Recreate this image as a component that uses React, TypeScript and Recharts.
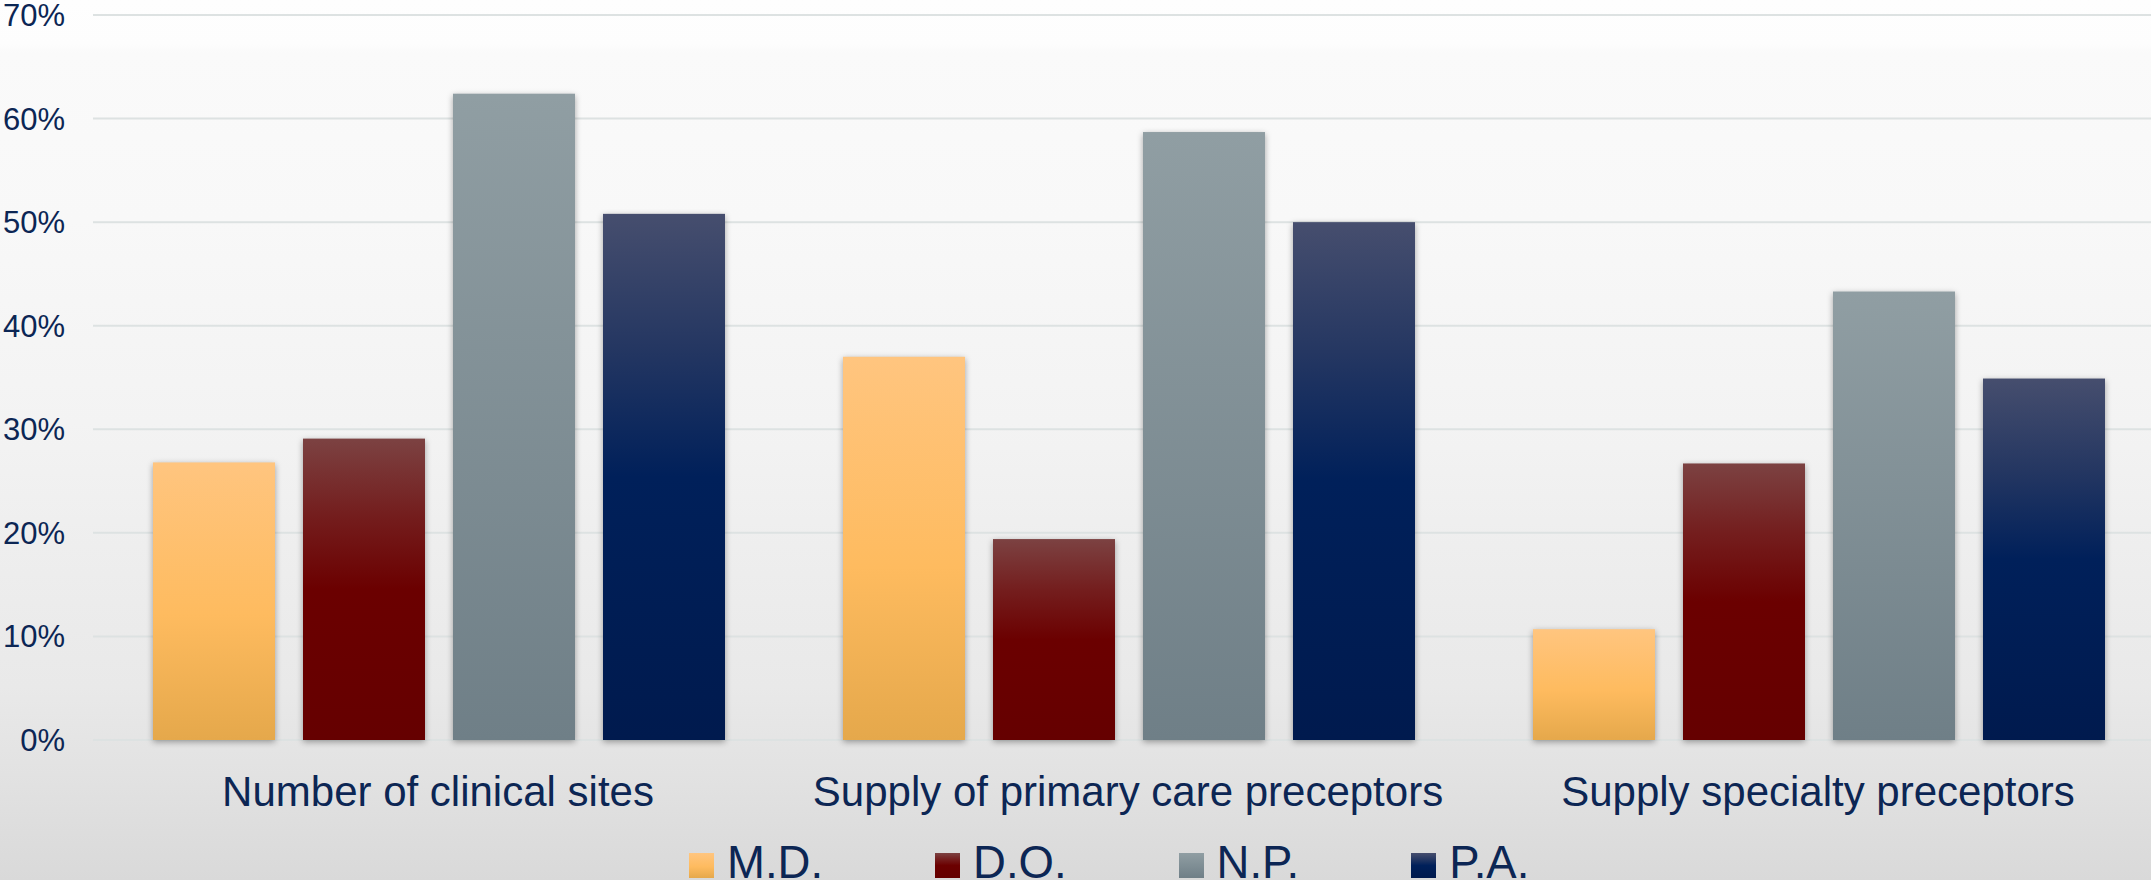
import React from 'react';
import { BarChart, Bar, XAxis, YAxis, CartesianGrid, Legend } from 'recharts';

// Share of respondents reporting each item as a barrier, by program type
const categories = [
  'Number of clinical sites',
  'Supply of primary care preceptors',
  'Supply specialty preceptors',
];
const seriesNames = ['M.D.', 'D.O.', 'N.P.', 'P.A.'];
const mdValues = [26.8, 37.0, 10.7];
const doValues = [29.1, 19.4, 26.7];
const npValues = [62.4, 58.7, 43.3];
const paValues = [50.8, 50.0, 34.9];
const yTicks = [0, 10, 20, 30, 40, 50, 60, 70];

const seriesKeys = ['md', 'do', 'np', 'pa'];

const data = categories.map((category, i) => ({
  category,
  md: mdValues[i],
  do: doValues[i],
  np: npValues[i],
  pa: paValues[i],
}));

// Vertical gradient stops for each series (offset, colour)
const gradientStops: Record<string, [number, string][]> = {
  md: [[0, '#FFC57F'], [0.55, '#FEBB5F'], [1, '#E5A84B']],
  do: [[0, '#7C4242'], [0.25, '#741E1E'], [0.5, '#6B0000'], [1, '#650000']],
  np: [[0, '#909EA3'], [1, '#6F7F87']],
  pa: [[0, '#464E6E'], [0.25, '#253762'], [0.5, '#00205A'], [1, '#001A4E']],
};

const textColor = '#0C2654';
const fontFamily = '"Liberation Sans", Arial, Helvetica, sans-serif';

const cssGradient = (key: string) =>
  `linear-gradient(to bottom, ${gradientStops[key]
    .map(([o, c]) => `${c} ${o * 100}%`)
    .join(', ')})`;

const ShadowBar = (props: any) => {
  const { x, y, width, height, fill } = props;
  if (!height || height <= 0) return null;
  return (
    <rect x={x} y={y} width={width} height={height} fill={fill} filter="url(#barShadow)" />
  );
};

const renderLegend = (props: any) => {
  const payload = [...(props.payload || [])].sort(
    (a: any, b: any) =>
      seriesKeys.indexOf(String(a.dataKey)) - seriesKeys.indexOf(String(b.dataKey)),
  );
  return (
    <div
      style={{
        display: 'flex',
        height: 50,
        paddingLeft: 689,
        boxSizing: 'border-box',
        fontFamily,
      }}
    >
      {payload.map((entry: any, i: number) => (
        <div
          key={entry.value}
          style={{
            display: 'flex',
            alignItems: 'flex-start',
            marginRight: i < payload.length - 1 ? 112 : 0,
          }}
        >
          <div
            style={{
              width: 25,
              height: 25,
              marginTop: 23,
              background: cssGradient(String(entry.dataKey)),
            }}
          />
          <span
            style={{
              marginLeft: 13,
              marginTop: 10,
              fontSize: 45.5,
              lineHeight: '46px',
              color: textColor,
              whiteSpace: 'nowrap',
            }}
          >
            {entry.value}
          </span>
        </div>
      ))}
    </div>
  );
};

export default function App() {
  return (
    <div
      style={{
        position: 'absolute',
        left: 0,
        top: 0,
        width: 2151,
        height: 880,
        overflow: 'hidden',
        fontFamily,
        background:
          'linear-gradient(to bottom, #FEFEFE 0%, #FDFDFD 5%, #FAFAFA 6%, #F8F8F8 25%, #F3F3F3 48%, #EEEEEE 62%, #E9E9E9 78%, #E2E2E2 88%, #D9D9D9 100%)',
      }}
    >
      <BarChart
        width={2163}
        height={880}
        data={data}
        margin={{ top: 15, right: 0, bottom: 0, left: 0 }}
        barCategoryGap={60}
        barGap={28}
      >
        <defs>
          {seriesKeys.map((key) => (
            <linearGradient key={key} id={`grad-${key}`} x1="0" y1="0" x2="0" y2="1">
              {gradientStops[key].map(([o, c]) => (
                <stop key={o} offset={o} stopColor={c} />
              ))}
            </linearGradient>
          ))}
          <filter
            id="barShadow"
            x="-20%"
            y="-10%"
            width="140%"
            height="125%"
            colorInterpolationFilters="sRGB"
          >
            <feDropShadow dx="0" dy="2" stdDeviation="3" floodColor="#000000" floodOpacity="0.35" />
          </filter>
        </defs>
        <CartesianGrid vertical={false} stroke="#DDE2E2" strokeWidth={2} />
        <XAxis
          dataKey="category"
          height={90}
          axisLine={false}
          tickLine={false}
          tickSize={0}
          tickMargin={36}
          interval={0}
          tick={{ fill: textColor, fontSize: 42, fontFamily }}
        />
        <YAxis
          width={93}
          domain={[0, 70]}
          ticks={yTicks}
          interval={0}
          tickFormatter={(v: number) => `${v}%`}
          axisLine={false}
          tickLine={false}
          tickSize={0}
          tickMargin={28}
          tick={{ fill: textColor, fontSize: 31, fontFamily }}
        />
        <Legend
          verticalAlign="bottom"
          content={renderLegend}
          itemSorter={null as any}
          wrapperStyle={{ left: 0, bottom: 0, width: 2163, height: 50, margin: 0, padding: 0 }}
        />
        {seriesKeys.map((key, i) => (
          <Bar
            key={key}
            dataKey={key}
            name={seriesNames[i]}
            fill={`url(#grad-${key})`}
            shape={ShadowBar}
            isAnimationActive={false}
          />
        ))}
      </BarChart>
    </div>
  );
}
